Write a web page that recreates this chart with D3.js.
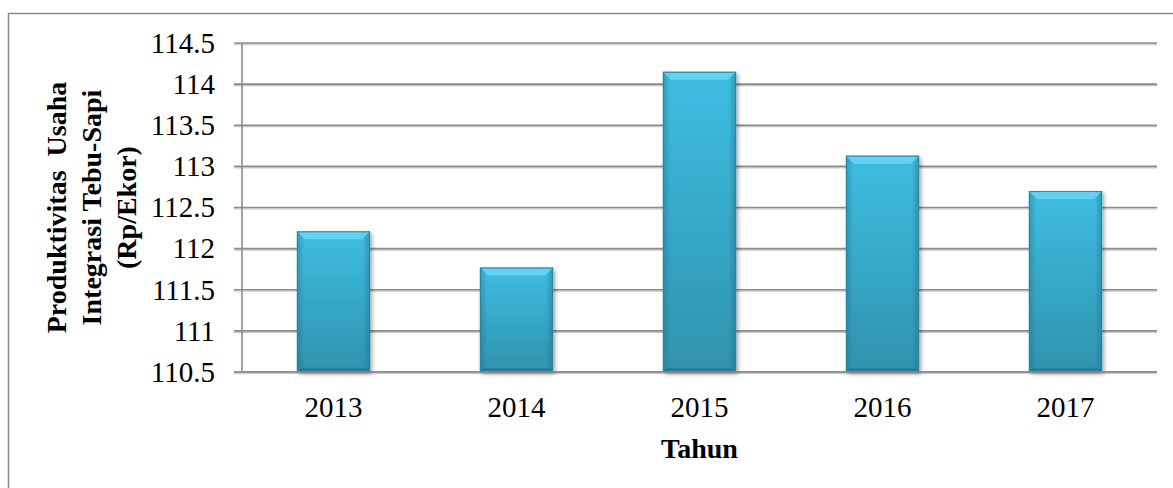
<!DOCTYPE html>
<html>
<head>
<meta charset="utf-8">
<script src="https://cdn.jsdelivr.net/npm/d3@7/dist/d3.min.js"></script>
<style>
    html, body { margin: 0; padding: 0; background: #fff; }
    svg { display: block; }
</style>
</head>
<body>
<div id="chart"></div>
<script>
// Data
const years = ['2013', '2014', '2015', '2016', '2017'];
const produktivitas = [112.21, 111.77, 114.15, 113.13, 112.70];
const yTicks = [110.5, 111, 111.5, 112, 112.5, 113, 113.5, 114, 114.5];
const yTitleLines = ['Produktivitas  Usaha', 'Integrasi Tebu-Sapi', '(Rp/Ekor)'];
const xTitle = 'Tahun';

const width = 1173;
const height = 488;
const margin = { top: 43, right: 16, bottom: 116, left: 242 };
const plotW = width - margin.left - margin.right;
const plotH = height - margin.top - margin.bottom;
const serif = '"Liberation Serif", "Times New Roman", serif';

const svg = d3.select('#chart').append('svg')
    .attr('width', width)
    .attr('height', height);

const defs = svg.append('defs');

// gradient vertical du corps de la barre
const bodyGrad = defs.append('linearGradient')
    .attr('id', 'bodyGrad').attr('x1', 0).attr('y1', 0).attr('x2', 0).attr('y2', 1);
bodyGrad.append('stop').attr('offset', '0%').attr('stop-color', '#3ebee2');
bodyGrad.append('stop').attr('offset', '100%').attr('stop-color', '#2f92ae');

// bords gauche/droite plus sombres
const sideGrad = defs.append('linearGradient')
    .attr('id', 'sideGrad').attr('x1', 0).attr('y1', 0).attr('x2', 1).attr('y2', 0);
sideGrad.append('stop').attr('offset', '0%').attr('stop-color', '#1d6f86').attr('stop-opacity', 0.45);
sideGrad.append('stop').attr('offset', '10%').attr('stop-color', '#1d6f86').attr('stop-opacity', 0);
sideGrad.append('stop').attr('offset', '90%').attr('stop-color', '#1d6f86').attr('stop-opacity', 0);
sideGrad.append('stop').attr('offset', '100%').attr('stop-color', '#1d6f86').attr('stop-opacity', 0.5);

const shadow = defs.append('filter').attr('id', 'shadow')
    .attr('x', '-20%').attr('y', '-10%').attr('width', '140%').attr('height', '120%');
shadow.append('feDropShadow')
    .attr('dx', 2).attr('dy', 2).attr('stdDeviation', 2)
    .attr('flood-color', '#000').attr('flood-opacity', 0.35);

const lineShadow = defs.append('filter').attr('id', 'lineShadow')
    .attr('x', '-5%').attr('y', '-200%').attr('width', '110%').attr('height', '500%');
lineShadow.append('feDropShadow')
    .attr('dx', 0).attr('dy', 1.2).attr('stdDeviation', 0.6)
    .attr('flood-color', '#000').attr('flood-opacity', 0.25);

// cadre extérieur
svg.append('rect')
    .attr('x', 8.5).attr('y', 13.5)
    .attr('width', width).attr('height', height)
    .attr('fill', 'none')
    .attr('stroke', '#8a8a8a')
    .attr('stroke-width', 1.5);

const g = svg.append('g').attr('transform', `translate(${margin.left},${margin.top})`);

const x = d3.scaleBand()
    .domain(years)
    .range([0, plotW])
    .paddingInner(0.6)
    .paddingOuter(0.3);

const y = d3.scaleLinear()
    .domain([110.5, 114.5])
    .range([plotH, 0]);

// lignes de grille
g.append('g')
    .attr('filter', 'url(#lineShadow)')
    .selectAll('line')
    .data(yTicks)
    .enter().append('line')
    .attr('x1', -8).attr('x2', plotW)
    .attr('y1', d => y(d)).attr('y2', d => y(d))
    .attr('stroke', '#8c8c8c')
    .attr('stroke-width', 1.6);

// axe Y
g.append('line')
    .attr('x1', 0).attr('x2', 0)
    .attr('y1', 0).attr('y2', plotH)
    .attr('stroke', '#8c8c8c')
    .attr('stroke-width', 1.6);

const yAxis = d3.axisLeft(y)
    .tickValues(yTicks)
    .tickSize(0)
    .tickPadding(27)
    .tickFormat(d => String(d));

g.append('g')
    .call(yAxis)
    .attr('font-family', serif)
    .attr('font-size', 29)
    .call(s => s.select('.domain').remove())
    .selectAll('text')
    .attr('fill', '#000');

// axe X (étiquettes)
const xAxis = d3.axisBottom(x).tickSize(0).tickPadding(24);
g.append('g')
    .attr('transform', `translate(0,${plotH})`)
    .call(xAxis)
    .attr('font-family', serif)
    .attr('font-size', 29)
    .call(s => s.select('.domain').remove())
    .selectAll('text')
    .attr('fill', '#000');

// barres
const bev = 8;
const bars = g.selectAll('.bar')
    .data(years.map((yr, i) => ({ year: yr, value: produktivitas[i] })))
    .enter().append('g')
    .attr('class', 'bar');

bars.append('rect')
    .attr('x', d => x(d.year))
    .attr('y', d => y(d.value))
    .attr('width', x.bandwidth())
    .attr('height', d => plotH - y(d.value))
    .attr('fill', 'url(#bodyGrad)')
    .attr('filter', 'url(#shadow)');

bars.append('rect')
    .attr('x', d => x(d.year))
    .attr('y', d => y(d.value))
    .attr('width', x.bandwidth())
    .attr('height', d => plotH - y(d.value))
    .attr('fill', 'url(#sideGrad)');

// biseau du haut
bars.append('path')
    .attr('d', d => {
        const x0 = x(d.year), x1 = x0 + x.bandwidth(), y0 = y(d.value);
        return `M${x0},${y0}L${x1},${y0}L${x1 - bev},${y0 + bev}L${x0 + bev},${y0 + bev}Z`;
    })
    .attr('fill', '#6ad6f2')
    .attr('opacity', 0.85);

// biseau du bas
bars.append('path')
    .attr('d', d => {
        const x0 = x(d.year), x1 = x0 + x.bandwidth(), y1 = plotH;
        return `M${x0},${y1}L${x1},${y1}L${x1 - 4},${y1 - 4}L${x0 + 4},${y1 - 4}Z`;
    })
    .attr('fill', '#1f6f86')
    .attr('opacity', 0.55);

bars.append('rect')
    .attr('x', d => x(d.year) + 0.5)
    .attr('y', d => y(d.value) + 0.5)
    .attr('width', x.bandwidth() - 1)
    .attr('height', d => plotH - y(d.value) - 1)
    .attr('fill', 'none')
    .attr('stroke', '#2a86a0')
    .attr('stroke-width', 1);

// ligne de base
g.append('line')
    .attr('x1', -8).attr('x2', plotW)
    .attr('y1', plotH).attr('y2', plotH)
    .attr('stroke', '#8c8c8c')
    .attr('stroke-width', 1.6);

// titre de l'axe Y
const yTitle = svg.append('text')
    .attr('transform', `translate(91,${margin.top + plotH / 2}) rotate(-90)`)
    .attr('text-anchor', 'middle')
    .attr('font-family', serif)
    .attr('font-size', 28)
    .attr('font-weight', 'bold')
    .attr('fill', '#000')
    .style('white-space', 'pre');

yTitleLines.forEach((line, i) => {
    yTitle.append('tspan')
        .attr('x', 0)
        .attr('dy', i === 0 ? -34.7 + 10 : 34.7)
        .text(line);
});

// titre de l'axe X
svg.append('text')
    .attr('x', margin.left + plotW / 2)
    .attr('y', 458)
    .attr('text-anchor', 'middle')
    .attr('font-family', serif)
    .attr('font-size', 28)
    .attr('font-weight', 'bold')
    .attr('fill', '#000')
    .text(xTitle);
</script>
</body>
</html>
